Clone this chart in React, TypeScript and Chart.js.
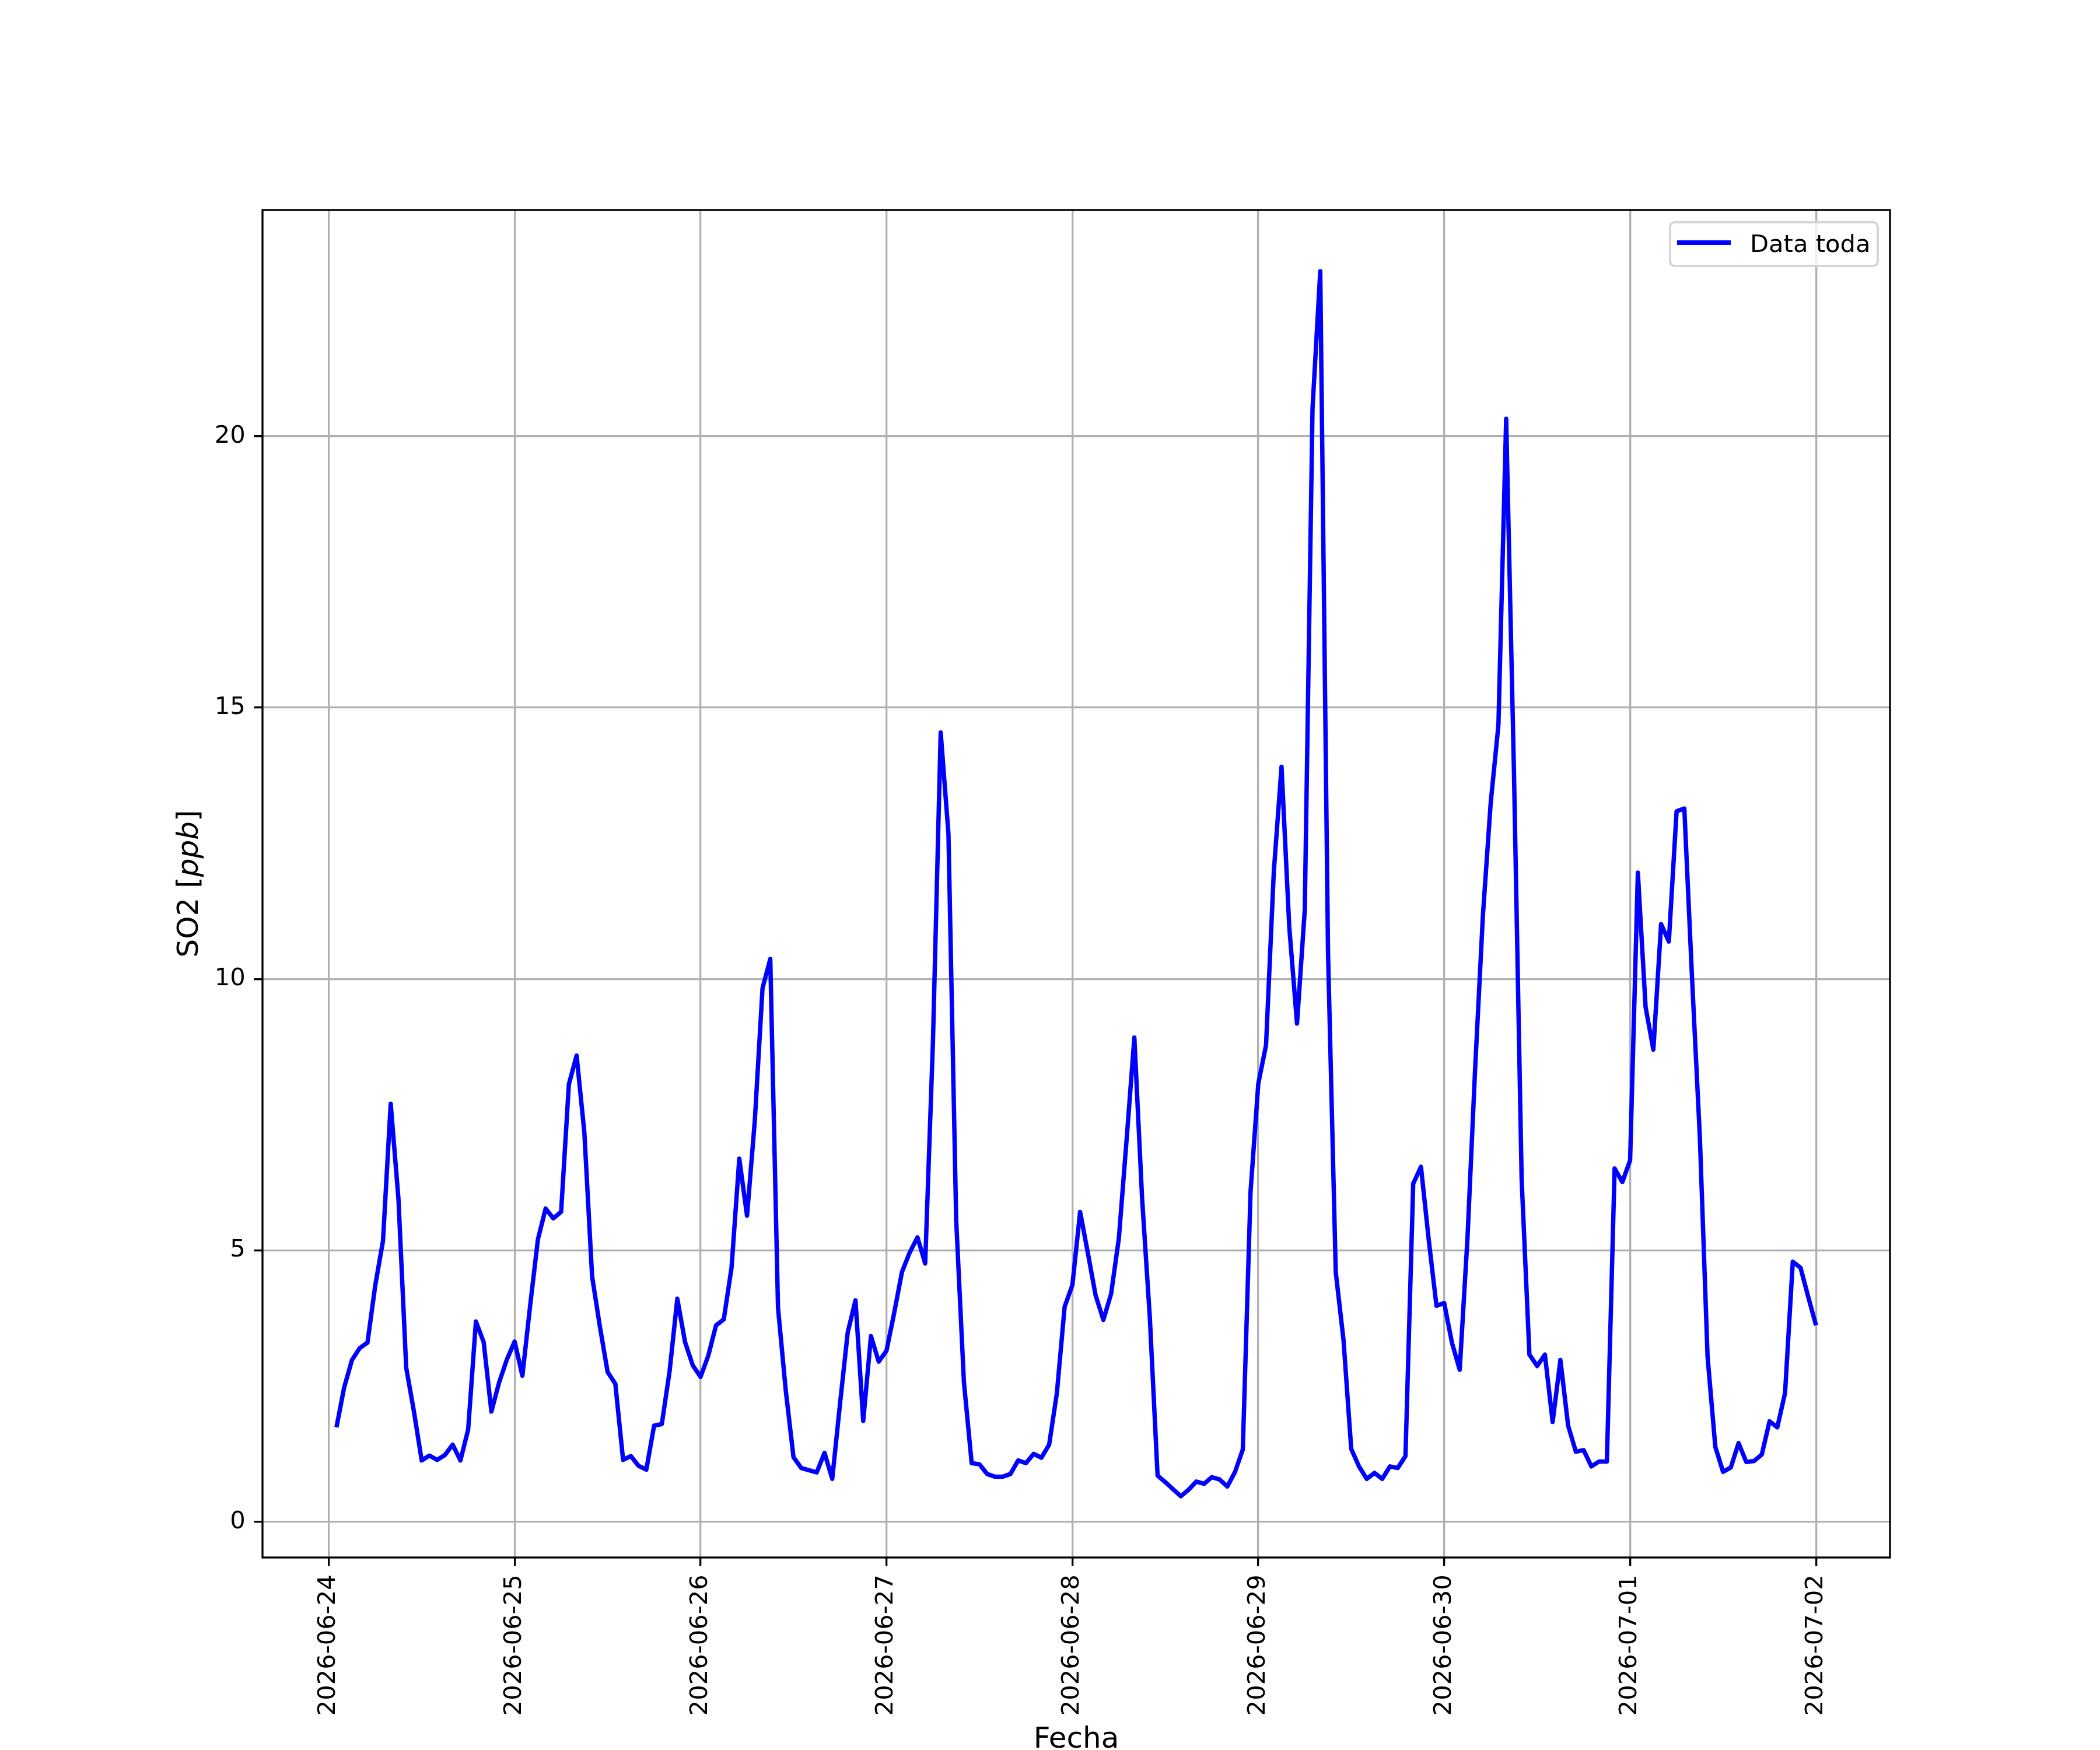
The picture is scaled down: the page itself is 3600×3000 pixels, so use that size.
import { useEffect, useRef } from 'react';
import Chart from 'chart.js/auto';

// SO2 readings, hourly, each array runs 01:00 of the named day to 00:00 of the next
const so2_0624 = [1.74, 2.48, 2.98, 3.2, 3.3, 4.35, 5.17, 7.7, 5.95, 2.84, 2.03, 1.13, 1.22, 1.14, 1.23, 1.42, 1.13, 1.7, 3.69, 3.31, 2.03, 2.57, 2.99, 3.32];
const so2_0625 = [2.69, 3.98, 5.2, 5.77, 5.59, 5.71, 8.06, 8.59, 7.17, 4.52, 3.6, 2.76, 2.54, 1.14, 1.21, 1.03, 0.96, 1.77, 1.8, 2.77, 4.11, 3.31, 2.88, 2.67];
const so2_0626 = [3.06, 3.62, 3.73, 4.68, 6.69, 5.64, 7.38, 9.83, 10.37, 3.94, 2.42, 1.19, 0.99, 0.95, 0.91, 1.27, 0.79, 2.17, 3.49, 4.08, 1.86, 3.42, 2.95, 3.15];
const so2_0627 = [3.85, 4.6, 4.96, 5.24, 4.76, 8.84, 14.54, 12.68, 5.56, 2.57, 1.08, 1.06, 0.88, 0.83, 0.83, 0.88, 1.13, 1.08, 1.25, 1.18, 1.42, 2.37, 3.96, 4.36];
const so2_0628 = [5.71, 4.95, 4.17, 3.72, 4.2, 5.22, 7.04, 8.92, 5.96, 3.76, 0.85, 0.73, 0.6, 0.47, 0.59, 0.74, 0.7, 0.82, 0.78, 0.65, 0.92, 1.33, 6.08, 8.07];
const so2_0629 = [8.78, 11.97, 13.91, 10.96, 9.18, 11.27, 20.51, 23.04, 10.5, 4.6, 3.35, 1.34, 1.02, 0.79, 0.9, 0.79, 1.02, 0.99, 1.21, 6.23, 6.54, 5.2, 3.98, 4.03];
const so2_0630 = [3.3, 2.8, 5.21, 8.37, 11.18, 13.24, 14.68, 20.32, 13.86, 6.3, 3.08, 2.87, 3.08, 1.84, 2.98, 1.77, 1.29, 1.32, 1.02, 1.11, 1.11, 6.51, 6.26, 6.66];
const so2_0701 = [11.96, 9.48, 8.7, 11.01, 10.69, 13.09, 13.14, 10.0, 7.1, 3.04, 1.38, 0.92, 1.0, 1.45, 1.1, 1.12, 1.24, 1.85, 1.74, 2.37, 4.79, 4.68, 4.14, 3.62];

const tickDates = ['2026-06-24', '2026-06-25', '2026-06-26', '2026-06-27', '2026-06-28', '2026-06-29', '2026-06-30', '2026-07-01', '2026-07-02'];
const tickHours = [0, 24, 48, 72, 96, 120, 144, 168, 192];
const yTicks = [0, 5, 10, 15, 20];

const seriesLabel = 'Data toda';
const xTitle = 'Fecha';

const FS = 41.67; // 10pt at 300 dpi
const TFS = 50; // 12pt axis titles
const FONT = "'DejaVu Sans'";

export default function App() {
    const canvasRef = useRef<HTMLCanvasElement>(null);
    const chartRef = useRef<Chart | null>(null);

    useEffect(() => {
        document.body.style.margin = '0';
        if (!canvasRef.current) return;

        const values = [...so2_0624, ...so2_0625, ...so2_0626, ...so2_0627, ...so2_0628, ...so2_0629, ...so2_0630, ...so2_0701];
        // hours counted from 2026-06-24 00:00, first reading at 01:00
        const points = values.map((v, i) => ({ x: i + 1, y: v }));

        const xMin = points[0].x;
        const xMax = points[points.length - 1].x;
        const xPad = (xMax - xMin) * 0.05;
        const yMin = Math.min(...values);
        const yMax = Math.max(...values);
        const yPad = (yMax - yMin) * 0.05;

        const decorations = {
            id: 'decorations',
            afterDraw(chart: any) {
                const { ctx, chartArea: a } = chart;
                ctx.save();

                // axes frame
                ctx.strokeStyle = '#000';
                ctx.lineWidth = 3.33;
                ctx.strokeRect(a.left, a.top, a.right - a.left, a.bottom - a.top);

                // legend box
                const bw = 356;
                const bh = 75;
                const bx = a.right - 21 - bw;
                const by = a.top + 21;
                ctx.beginPath();
                ctx.roundRect(bx, by, bw, bh, 8);
                ctx.fillStyle = 'rgba(255,255,255,0.8)';
                ctx.fill();
                ctx.strokeStyle = '#d5d5d5';
                ctx.lineWidth = 4;
                ctx.stroke();

                ctx.beginPath();
                ctx.moveTo(bx + 12, by + 35);
                ctx.lineTo(bx + 104, by + 35);
                ctx.strokeStyle = '#0000ff';
                ctx.lineWidth = 8;
                ctx.stroke();

                ctx.fillStyle = '#000';
                ctx.font = `${FS}px ${FONT}`;
                ctx.textAlign = 'left';
                ctx.textBaseline = 'alphabetic';
                ctx.fillText(seriesLabel, bx + 137, by + 51);

                // x title
                ctx.font = `${TFS}px ${FONT}`;
                ctx.textAlign = 'center';
                ctx.fillText(xTitle, (a.left + a.right) / 2, a.bottom + 326);

                // y title: "SO2 [" + italic "ppb" + "]"
                const parts = [
                    { t: 'SO2 [', f: `${TFS}px ${FONT}` },
                    { t: 'ppb', f: `italic ${TFS}px ${FONT}` },
                    { t: ']', f: `${TFS}px ${FONT}` },
                ];
                let total = 0;
                const widths = parts.map(p => {
                    ctx.font = p.f;
                    const w = ctx.measureText(p.t).width;
                    total += w;
                    return w;
                });
                ctx.translate(a.left - 111, (a.top + a.bottom) / 2);
                ctx.rotate(-Math.PI / 2);
                ctx.textAlign = 'left';
                let cx = -total / 2;
                parts.forEach((p, i) => {
                    ctx.font = p.f;
                    ctx.fillText(p.t, cx, 0);
                    cx += widths[i];
                });

                ctx.restore();
            },
        };

        chartRef.current = new Chart(canvasRef.current, {
            type: 'line',
            data: {
                datasets: [
                    {
                        label: seriesLabel,
                        data: points,
                        borderColor: '#0000ff',
                        borderWidth: 7.5,
                        borderJoinStyle: 'round',
                        pointRadius: 0,
                        tension: 0,
                        fill: false,
                    },
                ],
            },
            options: {
                animation: false,
                responsive: true,
                maintainAspectRatio: false,
                devicePixelRatio: 1,
                layout: { padding: { top: 360, right: 360, left: 0, bottom: 0 } },
                plugins: {
                    legend: { display: false },
                    title: { display: false },
                    tooltip: { enabled: false },
                },
                scales: {
                    x: {
                        type: 'linear',
                        min: xMin - xPad,
                        max: xMax + xPad,
                        afterBuildTicks: (scale: any) => {
                            scale.ticks = tickHours.map(v => ({ value: v }));
                        },
                        afterFit: (scale: any) => {
                            scale.height = 330;
                        },
                        grid: {
                            color: '#b0b0b0',
                            lineWidth: 3.33,
                            tickColor: '#000',
                            tickWidth: 3.33,
                            tickLength: 14.6,
                        },
                        border: { display: false },
                        ticks: {
                            autoSkip: false,
                            maxRotation: 90,
                            minRotation: 90,
                            padding: 14.6,
                            color: '#000',
                            font: { family: 'DejaVu Sans', size: FS },
                            callback: (v: any) => tickDates[tickHours.indexOf(Number(v))] ?? '',
                        },
                    },
                    y: {
                        type: 'linear',
                        min: yMin - yPad,
                        max: yMax + yPad,
                        afterBuildTicks: (scale: any) => {
                            scale.ticks = yTicks.map(v => ({ value: v }));
                        },
                        afterFit: (scale: any) => {
                            scale.width = 450;
                        },
                        grid: {
                            color: '#b0b0b0',
                            lineWidth: 3.33,
                            tickColor: '#000',
                            tickWidth: 3.33,
                            tickLength: 14.6,
                        },
                        border: { display: false },
                        ticks: {
                            padding: 14.6,
                            color: '#000',
                            font: { family: 'DejaVu Sans', size: FS },
                            callback: (v: any) => String(v),
                        },
                    },
                },
            },
            plugins: [decorations],
        });

        return () => {
            if (chartRef.current) {
                chartRef.current.destroy();
                chartRef.current = null;
            }
        };
    }, []);

    return (
        <div style={{ width: 3600, height: 3000, position: 'relative', background: '#fff' }}>
            <canvas ref={canvasRef} />
        </div>
    );
}
